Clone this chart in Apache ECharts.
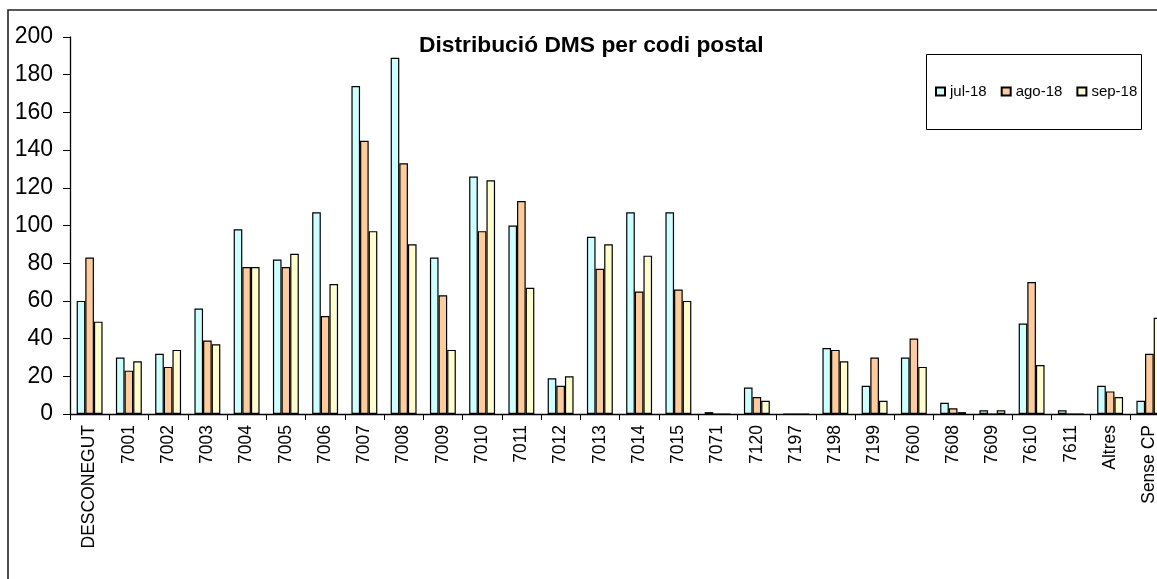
<!DOCTYPE html>
<html>
<head>
<meta charset="utf-8">
<script src="https://cdn.jsdelivr.net/npm/echarts@6/dist/echarts.min.js"></script>
<style>
html,body{margin:0;padding:0;background:#fff;overflow:hidden;}
#chart{width:1200px;height:579px;}
</style>
</head>
<body>
<div id="chart"></div>
<script>
const categories = ['DESCONEGUT','7001','7002','7003','7004','7005','7006','7007','7008','7009','7010','7011','7012','7013','7014','7015','7071','7120','7197','7198','7199','7600','7608','7609','7610','7611','Altres','Sense CP'];
const seriesNames = ['jul-18','ago-18','sep-18'];
const jul18 = [60,30,32,56,98,82,107,174,189,83,126,100,19,94,107,107,1,14,0,35,15,30,6,2,48,2,15,7];
const ago18 = [83,23,25,39,78,78,52,145,133,63,97,113,15,77,65,66,0,9,0,34,30,40,3,0,70,0,12,32];
const sep18 = [49,28,34,37,78,85,69,97,90,34,124,67,20,90,84,60,0,7,0,28,7,25,1,2,26,0,9,51];
const colors = ['#CCFFFF','#FFCC99','#FFFFCC'];
const titleText = 'Distribució DMS per codi postal';

const FONT = '"Liberation Sans", Arial, Helvetica, sans-serif';
const chart = echarts.init(document.getElementById('chart'), null, {renderer:'canvas'});

const values = [jul18, ago18, sep18];
const series = seriesNames.map((name, i) => ({
  name: name,
  type: 'bar',
  data: values[i],
  barGap: '0%',
  barCategoryGap: '34%',
  itemStyle: { color: colors[i], borderColor: '#000', borderWidth: 1.2 },
  emphasis: { disabled: true },
  animation: false
}));

chart.setOption({
  animation: false,
  backgroundColor: '#fff',
  textStyle: { fontFamily: FONT },
  title: {
    text: titleText,
    left: 419,
    top: 34,
    padding: 0,
    textStyle: { fontFamily: FONT, fontSize: 22.8, fontWeight: 'bold', color: '#000' }
  },
  legend: {
    data: seriesNames,
    left: 935,
    top: 84,
    padding: 0,
    itemWidth: 9,
    itemHeight: 8,
    itemGap: 14,
    icon: 'rect',
    textStyle: { fontFamily: FONT, fontSize: 15, color: '#000' },
    selectedMode: false
  },
  grid: { left: 70, right: 31, top: 37, bottom: 165, containLabel: false },
  xAxis: {
    type: 'category',
    data: categories,
    axisLine: { lineStyle: { color: '#000', width: 1.3 } },
    axisTick: { show: true, length: 6, lineStyle: { color: '#000' } },
    axisLabel: { rotate: 90, fontSize: 17.5, color: '#000', margin: 11, fontFamily: FONT, interval: 0 },
    splitLine: { show: false }
  },
  yAxis: {
    type: 'value',
    min: 0, max: 200, interval: 20,
    axisLine: { show: true, lineStyle: { color: '#000', width: 1.3 } },
    axisTick: { show: true, length: 7, lineStyle: { color: '#000' } },
    axisLabel: { fontSize: 23, color: '#000', margin: 17, fontFamily: FONT },
    splitLine: { show: false }
  },
  graphic: [
    { type: 'rect', shape: { x: 8, y: 10, width: 1250, height: 640 }, style: { fill: null, stroke: '#222', lineWidth: 1.6 }, silent: true, z: 100 },
    { type: 'rect', shape: { x: 926.5, y: 54.5, width: 215, height: 75 }, style: { fill: null, stroke: '#000', lineWidth: 1 }, silent: true, z: 100 }
  ],
  series: series
});
</script>
</body>
</html>
